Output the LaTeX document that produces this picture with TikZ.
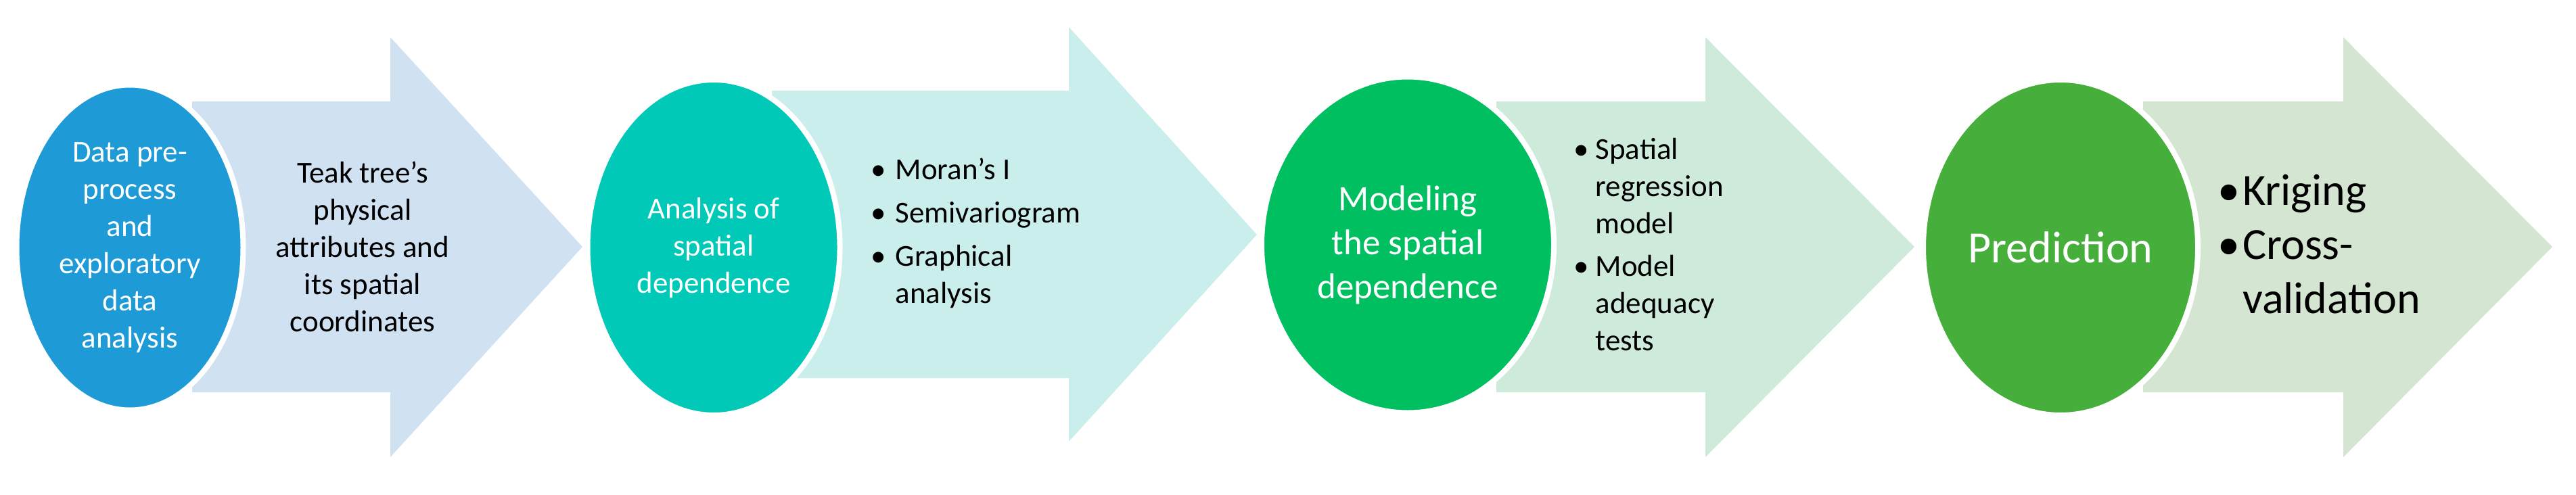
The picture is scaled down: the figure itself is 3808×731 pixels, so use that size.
\documentclass[tikz,border=0pt]{standalone}
\usepackage{fontspec}
\setmainfont{Carlito}
\usetikzlibrary{shapes.geometric}
\definecolor{e1}{HTML}{1E9BD7}\definecolor{a1}{HTML}{D0E1F2}
\definecolor{e2}{HTML}{00C9B7}\definecolor{a2}{HTML}{C9EEEB}
\definecolor{e3}{HTML}{00BF60}\definecolor{a3}{HTML}{CDEADB}
\definecolor{e4}{HTML}{46AF3B}\definecolor{a4}{HTML}{D4E5D2}
\begin{document}
\begin{tikzpicture}[x=1pt,y=-1pt,
  ell/.style={ellipse,draw=white,line width=8pt,inner sep=0pt,text=white,align=center},
  lbl/.style={inner sep=0pt,text=black},
  f45/.style={font=\fontsize{45}{55}\selectfont},
  f53/.style={font=\fontsize{53}{65}\selectfont},
  f66/.style={font=\fontsize{66}{80}\selectfont}]
\useasboundingbox (0,0) rectangle (3808,731);
% arrows
\fill[a1] (284,150) -- (577,150) -- (577,55) -- (861,365) -- (577,676) -- (577,580) -- (284,580) -- cycle;
\fill[a2] (1141,134) -- (1580,134) -- (1580,40) -- (1858,347) -- (1580,653) -- (1580,559) -- (1141,559) -- cycle;
\fill[a3] (2212,150) -- (2521,150) -- (2521,55) -- (2830,365) -- (2521,676) -- (2521,580) -- (2212,580) -- cycle;
\fill[a4] (3168,150) -- (3464,150) -- (3464,55) -- (3773,365) -- (3464,676) -- (3464,580) -- (3168,580) -- cycle;
% ellipses
\node[ell,fill=e1,minimum width=335pt,minimum height=481pt,f45] (n1) at (192,366) {Data pre-\\process\\and\\exploratory\\data\\analysis};
\node[ell,fill=e2,minimum width=373pt,minimum height=496pt,f45] (n2) at (1055,366) {Analysis of\\spatial\\dependence};
\node[ell,fill=e3,minimum width=432pt,minimum height=497pt,f53] (n3) at (2081,362) {Modeling\\the spatial\\dependence};
\node[ell,fill=e4,minimum width=406pt,minimum height=496pt,f66] (n4) at (3046,366) {Prediction};
% labels
\node[lbl,f45,align=center] (t1) at (536,365) {Teak tree's\\physical\\attributes and\\its spatial\\coordinates};
\node[lbl,f45,anchor=west] (t2) at (1287,346) {\begin{tabular}{@{}l@{\hspace{14pt}}l@{}}\textbullet&Moran's I\\[9pt]\textbullet&Semivariogram\\[9pt]\textbullet&Graphical\\&analysis\end{tabular}};
\node[lbl,f45,anchor=west] (t3) at (2326,366) {\begin{tabular}{@{}l@{\hspace{10pt}}l@{}}\textbullet&Spatial\\&regression\\&model\\[8pt]\textbullet&Model\\&adequacy\\&tests\end{tabular}};
\node[lbl,f66,anchor=west] (t4) at (3278,367) {\begin{tabular}{@{}l@{\hspace{4pt}}l@{}}\textbullet&Kriging\\\textbullet&Cross-\\&validation\end{tabular}};
\end{tikzpicture}
\end{document}
